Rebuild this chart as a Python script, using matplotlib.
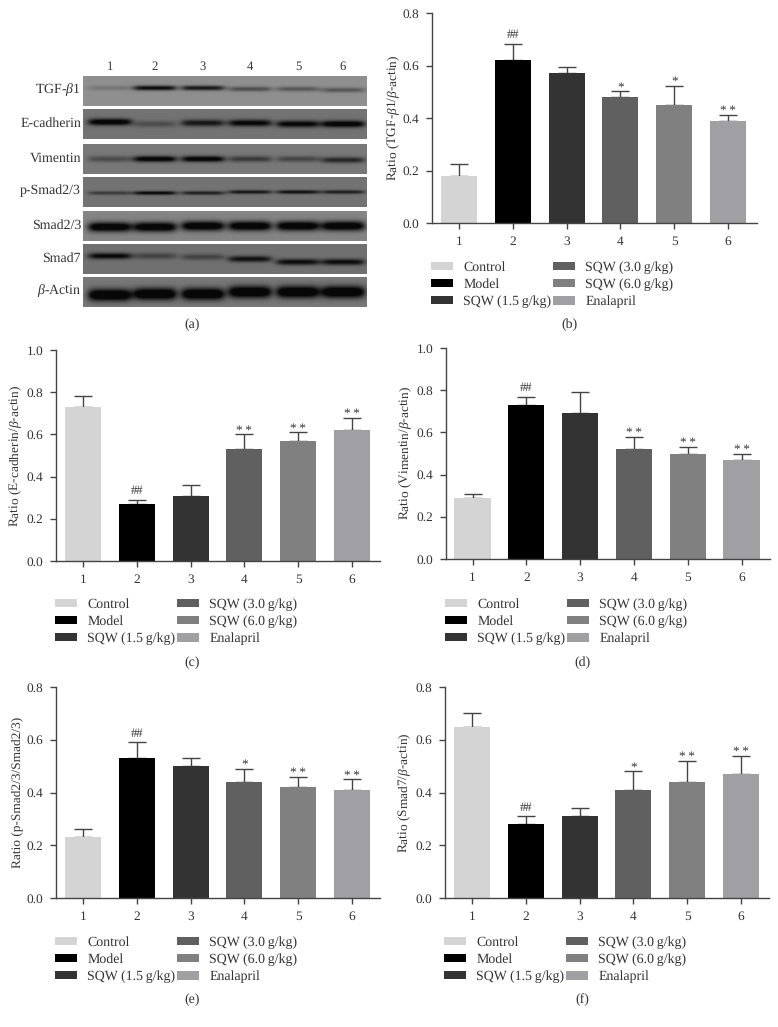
import numpy as np
import matplotlib
matplotlib.use("Agg")
import matplotlib.pyplot as plt
from matplotlib.patches import Patch

plt.rcParams['font.family'] = ['Liberation Serif', 'DejaVu Serif']
plt.rcParams['mathtext.fontset'] = 'custom'
plt.rcParams['mathtext.rm'] = 'Liberation Serif'
plt.rcParams['mathtext.it'] = 'Liberation Serif:italic'
plt.rcParams['mathtext.bf'] = 'Liberation Serif:bold'
plt.rcParams['text.hinting'] = 'none'

W, H = 778, 1027
groups = [1, 2, 3, 4, 5, 6]
legend_labels = ['Control', 'Model', 'SQW (1.5\u2009g/kg)', 'SQW (3.0\u2009g/kg)', 'SQW (6.0\u2009g/kg)', 'Enalapril']
bar_colors = ['#d4d4d4', '#000000', '#333333', '#606060', '#808080', '#a0a0a4']

tgf_mean = [0.18, 0.62, 0.57, 0.48, 0.45, 0.39]
tgf_top = [0.223, 0.683, 0.593, 0.503, 0.523, 0.413]
tgf_marks = ['', '##', '', '*', '*', '**']
ecad_mean = [0.73, 0.27, 0.31, 0.53, 0.57, 0.62]
ecad_top = [0.78, 0.29, 0.36, 0.60, 0.61, 0.68]
ecad_marks = ['', '##', '', '**', '**', '**']
vim_mean = [0.29, 0.73, 0.69, 0.52, 0.50, 0.47]
vim_top = [0.31, 0.77, 0.79, 0.58, 0.53, 0.50]
vim_marks = ['', '##', '', '**', '**', '**']
psmad_mean = [0.23, 0.53, 0.50, 0.44, 0.42, 0.41]
psmad_top = [0.26, 0.59, 0.53, 0.49, 0.46, 0.45]
psmad_marks = ['', '##', '', '*', '**', '**']
smad7_mean = [0.65, 0.28, 0.31, 0.41, 0.44, 0.47]
smad7_top = [0.70, 0.31, 0.34, 0.48, 0.52, 0.54]
smad7_marks = ['', '##', '', '*', '**', '**']

blot_labels = ['TGF-$\\beta$1', 'E-cadherin', 'Vimentin', 'p-Smad2/3', 'Smad2/3', 'Smad7', '$\\beta$-Actin']
blot_background = [0.56, 0.45, 0.47, 0.45, 0.52, 0.44, 0.47]
blot_strength = [
    [0.10, 0.52, 0.47, 0.25, 0.22, 0.22],
    [0.50, 0.15, 0.37, 0.45, 0.45, 0.50],
    [0.18, 0.50, 0.50, 0.25, 0.20, 0.32],
    [0.22, 0.42, 0.33, 0.36, 0.38, 0.33],
    [0.62, 0.62, 0.62, 0.62, 0.62, 0.62],
    [0.42, 0.18, 0.18, 0.38, 0.40, 0.40],
    [0.62, 0.62, 0.62, 0.62, 0.62, 0.62],
]
blot_thickness = [1.9, 2.6, 2.3, 1.5, 3.7, 2.4, 4.6]
blot_row = [
    [12, 12, 12, 13, 13, 14],
    [13, 15, 14, 14, 15, 15],
    [15, 15, 15, 15, 15, 16],
    [16, 16, 16, 15, 15, 15],
    [16, 16, 15, 15, 15, 15],
    [12, 12, 13, 15, 18, 18],
    [18, 17, 17, 15, 15, 15],
]
blot_tops = [76, 109, 144, 177, 211, 244, 277]
lane_px = [110, 155, 203, 250, 298, 343]
lane_labels = ['1', '2', '3', '4', '5', '6']

FS = 9.6
LFS = 10.0
INK = '#333333'
AXC = '#444444'
fig = plt.figure(figsize=(W / 100, H / 100), dpi=100)


def panel(mean, top, marks, ylabel, x0, x1, y_top, y_zero, ymax, c1, ticks, leg_y, cap, lab=-33):
    ax = fig.add_axes([x0 / W, 1 - y_zero / H, (x1 - x0) / W, (y_zero - y_top) / H])
    step = 53.8
    ax.set_xlim(1 - (c1 - x0) / step, 1 + (x1 - c1) / step)
    ax.set_ylim(0, ymax)
    err = [t - m for t, m in zip(top, mean)]
    ax.bar(groups, mean, width=0.67, color=bar_colors, zorder=2)
    ax.errorbar(groups, mean, yerr=[[0] * 6, err], fmt='none', ecolor=AXC, elinewidth=1.0,
                capsize=6.5, capthick=1.0, zorder=1)
    for g, t, m in zip(groups, top, marks):
        if m:
            is_hash = m == '##'
            ax.annotate('\u2009'.join(m) if not is_hash else m, (g, t),
                        xytext=(0, 2.0 if is_hash else -1.5), textcoords='offset points',
                        ha='center', va='bottom', fontsize=9 if is_hash else 9.5, color=INK)
    for s in ['top', 'right']:
        ax.spines[s].set_visible(False)
    for s in ['left', 'bottom']:
        ax.spines[s].set_color(AXC)
        ax.spines[s].set_linewidth(1.0)
    ax.set_xticks(groups)
    ax.set_yticks(ticks)
    ax.set_yticklabels([f'{t:.1f}' for t in ticks])
    ax.tick_params(axis='both', length=4.4, width=1.0, color=AXC, labelsize=FS, labelcolor=INK)
    ax.tick_params(axis='x', pad=5)
    ax.tick_params(axis='y', pad=4.5)
    ax.set_ylabel(ylabel, fontsize=FS, color=INK)
    ax.yaxis.set_label_coords(lab / (x1 - x0), 0.5)
    handles = [Patch(facecolor=c, edgecolor='none') for c in bar_colors]
    ax.legend(handles, legend_labels, ncol=2, frameon=False, fontsize=LFS, labelcolor=INK,
              loc='upper left', bbox_to_anchor=(-1 / (x1 - x0), 1 - (leg_y - y_top) / (y_zero - y_top)),
              borderaxespad=0, borderpad=0, handlelength=1.6, handleheight=0.53,
              handletextpad=0.72, labelspacing=0.33, columnspacing=0.12)
    ax.text((cap[0] - x0) / (x1 - x0), 1 - (cap[1] - y_top) / (y_zero - y_top), cap[2],
            transform=ax.transAxes, ha='center', va='center', fontsize=LFS, color=INK)
    return ax


panel(tgf_mean, tgf_top, tgf_marks, 'Ratio (TGF-$\\beta$1/$\\beta$-actin)',
      432, 757, 13, 223, 0.8, 459, [0, .2, .4, .6, .8], 261, (569, 325, '(b)'), lab=-31)
panel(ecad_mean, ecad_top, ecad_marks, 'Ratio (E-cadherin/$\\beta$-actin)',
      56, 380, 350, 561, 1.0, 83, [0, .2, .4, .6, .8, 1.0], 598, (192, 663, '(c)'))
panel(vim_mean, vim_top, vim_marks, 'Ratio (Vimentin/$\\beta$-actin)',
      446, 770, 348, 559, 1.0, 472.5, [0, .2, .4, .6, .8, 1.0], 598, (582, 663, '(d)'))
panel(psmad_mean, psmad_top, psmad_marks, 'Ratio (p-Smad2/3/Smad2/3)',
      56, 380, 687, 898, 0.8, 83, [0, .2, .4, .6, .8], 936, (192, 1000, '(e)'))
panel(smad7_mean, smad7_top, smad7_marks, 'Ratio (Smad7/$\\beta$-actin)',
      445, 769, 687, 898, 0.8, 472, [0, .2, .4, .6, .8], 936, (582, 1000, '(f)'))

# Western blot strips of panel (a)
bx0, bx1, bh = 83, 367, 30
xx = np.arange(bx0, bx1) + 0.5
yy = np.arange(bh) + 0.5
for i, label in enumerate(blot_labels):
    top = blot_tops[i]
    img = np.full((bh, bx1 - bx0), blot_background[i])
    for lane, s, r in zip(lane_px, blot_strength[i], blot_row[i]):
        img = img - s * np.outer(np.exp(-((yy - r) / (blot_thickness[i] * 1.3)) ** 2),
                                 np.exp(-((xx - lane) / 22.0) ** 6))
    a = fig.add_axes([bx0 / W, 1 - (top + bh) / H, (bx1 - bx0) / W, bh / H])
    a.imshow(np.clip(img, 0.03, 1), cmap='gray', vmin=0, vmax=1, aspect='auto', interpolation='bilinear')
    a.axis('off')
    fig.text(81 / W, 1 - (top + 14) / H, label, ha='right', va='center', fontsize=LFS, color=INK)
for x, t in zip(lane_px, lane_labels):
    fig.text(x / W, 1 - 67 / H, t, ha='center', va='center', fontsize=FS - 0.5, color=INK)
fig.text(192 / W, 1 - 325 / H, '(a)', ha='center', va='center', fontsize=LFS, color=INK)

fig.savefig('out.png', dpi=100)
